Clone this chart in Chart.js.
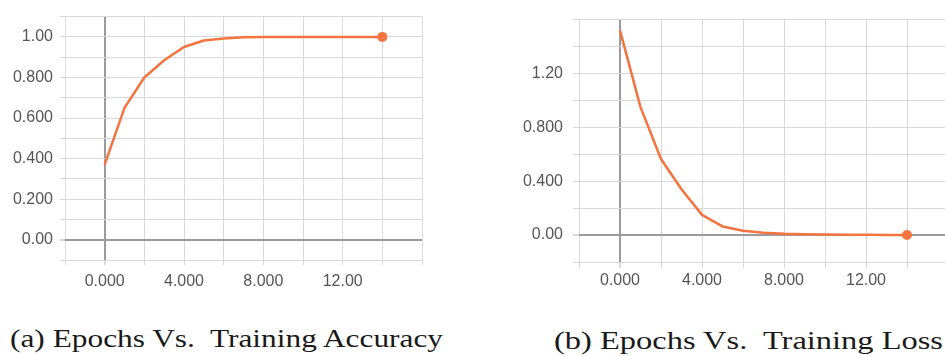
<!DOCTYPE html>
<html>
<head>
<meta charset="utf-8">
<script src="https://cdn.jsdelivr.net/npm/chart.js@4/dist/chart.umd.min.js"></script>
<style>
  html, body { margin: 0; padding: 0; background: #fff; width: 945px; height: 356px; overflow: hidden; position: relative; }
  .box { position: absolute; }
  .cap { position: absolute; font-family: "Liberation Serif", "Times New Roman", serif; font-size: 25px; line-height: normal; color: #1a1a1a; white-space: nowrap; transform-origin: 0 0; }
</style>
</head>
<body>
<div class="box" style="left:0;top:0;width:440px;height:290px"><canvas id="acc" width="440" height="290"></canvas></div>
<div class="box" style="left:500px;top:0;width:460px;height:300px"><canvas id="loss" width="460" height="300"></canvas></div>
<div class="cap" id="capA" style="left:10px;top:325px">(a) Epochs Vs.&nbsp; Training Accuracy</div>
<div class="cap" id="capB" style="left:554px;top:327px">(b) Epochs Vs.&nbsp; Training Loss</div>
<script>
// ---- data ----
const epochs = [0, 1, 2, 3, 4, 5, 6, 7, 8, 9, 10, 11, 12, 13, 14];
const accuracy = [0.37, 0.65, 0.80, 0.885, 0.95, 0.982, 0.992, 0.998, 1.0, 1.0, 1.0, 1.0, 1.0, 1.0, 1.0];
const loss = [1.52, 0.95, 0.565, 0.34, 0.15, 0.064, 0.032, 0.018, 0.01, 0.006, 0.004, 0.003, 0.002, 0.001, 0.001];

const xTickValues = [0, 4, 8, 12];
const xTickLabels = ['0.000', '4.000', '8.000', '12.00'];
const accYTickValues = [0, 0.2, 0.4, 0.6, 0.8, 1.0];
const accYTickLabels = ['0.00', '0.200', '0.400', '0.600', '0.800', '1.00'];
const lossYTickValues = [0, 0.4, 0.8, 1.2];
const lossYTickLabels = ['0.00', '0.400', '0.800', '1.20'];

const captions = { capA: 433, capB: 389 };

// ---- styles ----
const LINE = '#f4743f';
const GRID = '#d8d8d8';
const ZERO = '#9b9b9b';
const TICKFONT = { family: '"Liberation Sans", Arial, sans-serif', size: 16 };
const TICKCOLOR = '#555';

function labelFor(values, labels) {
  return function (v) {
    for (let i = 0; i < values.length; i++) {
      if (Math.abs(values[i] - v) < 1e-9) return labels[i];
    }
    return '';
  };
}
const isZero = ctx => ctx.tick && Math.abs(ctx.tick.value) < 1e-9;

function makeChart(id, values, cfg) {
  const pts = epochs.map((e, i) => ({ x: e, y: values[i] }));
  const last = pts.length - 1;
  return new Chart(document.getElementById(id), {
    type: 'line',
    data: {
      datasets: [{
        data: pts,
        borderColor: LINE,
        backgroundColor: LINE,
        borderWidth: 2.5,
        borderJoinStyle: 'round',
        tension: 0,
        pointRadius: c => c.dataIndex === last ? 5 : 0,
        pointBackgroundColor: LINE,
        pointBorderWidth: 0,
        fill: false
      }]
    },
    options: {
      responsive: false,
      animation: false,
      devicePixelRatio: 1,
      layout: { padding: cfg.padding },
      plugins: { legend: { display: false }, tooltip: { enabled: false } },
      scales: {
        x: {
          type: 'linear',
          min: -2, max: 16,
          afterFit: s => { s.height = cfg.xHeight; },
          border: { display: false },
          grid: {
            color: c => isZero(c) ? ZERO : GRID,
            lineWidth: c => isZero(c) ? 2 : 1,
            tickColor: GRID,
            tickLength: cfg.tickLen,
            drawTicks: true
          },
          ticks: {
            stepSize: 2,
            autoSkip: false,
            maxRotation: 0,
            padding: cfg.xPad,
            color: TICKCOLOR,
            font: TICKFONT,
            callback: labelFor(xTickValues, xTickLabels)
          }
        },
        y: {
          type: 'linear',
          min: cfg.yMin, max: cfg.yMax,
          afterFit: s => { s.width = cfg.yWidth; },
          border: { display: false },
          grid: {
            color: c => isZero(c) ? ZERO : GRID,
            lineWidth: c => isZero(c) ? 2 : 1,
            tickColor: GRID,
            tickLength: cfg.tickLen,
            drawTicks: true
          },
          ticks: {
            stepSize: cfg.yStep,
            autoSkip: false,
            padding: cfg.yPad,
            color: TICKCOLOR,
            font: TICKFONT,
            callback: labelFor(cfg.yVals, cfg.yLabels)
          }
        }
      }
    }
  });
}

makeChart('acc', accuracy, {
  padding: { top: 15, right: 18, left: 0, bottom: 0 },
  xHeight: 30, yWidth: 65, tickLen: 5, xPad: 7, yPad: 7,
  yMin: -0.1, yMax: 1.1, yStep: 0.1,
  yVals: accYTickValues, yLabels: accYTickLabels
});

makeChart('loss', loss, {
  padding: { top: 7, right: 12, left: 0, bottom: 0 },
  xHeight: 38, yWidth: 79, tickLen: 6, xPad: 3, yPad: 10,
  yMin: -0.2, yMax: 1.6, yStep: 0.2,
  yVals: lossYTickValues, yLabels: lossYTickLabels
});

// fit captions to their widths in the reference
for (const id in captions) {
  const el = document.getElementById(id);
  const w = el.getBoundingClientRect().width;
  el.style.transform = 'scaleX(' + (captions[id] / w) + ')';
}
</script>
</body>
</html>
